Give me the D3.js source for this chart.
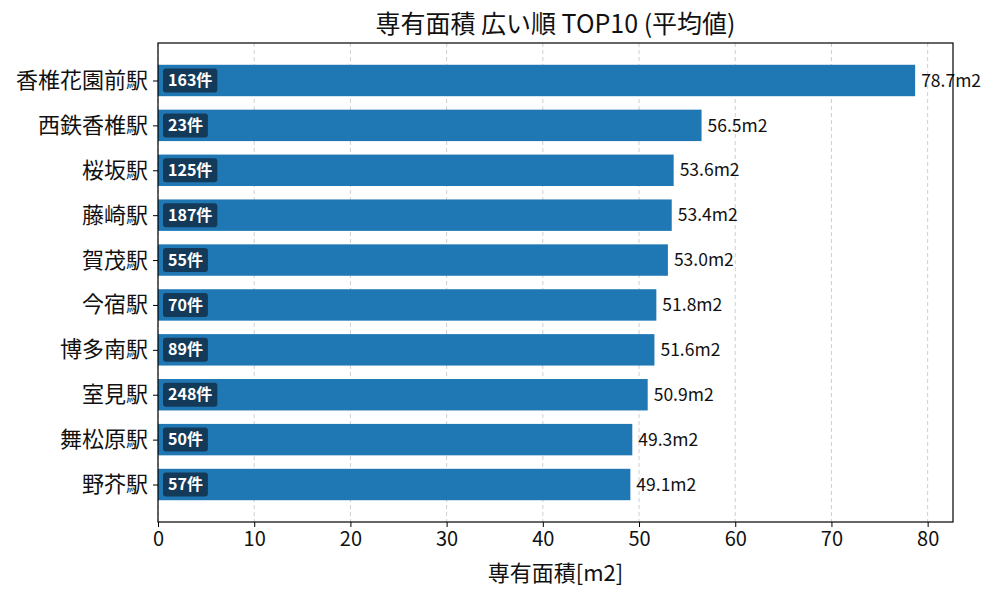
<!DOCTYPE html>
<html lang="ja">
<head>
<meta charset="utf-8">
<title>専有面積 広い順 TOP10</title>
<script src="https://cdn.jsdelivr.net/npm/d3@7"></script>
<style>
  body { margin: 0; background: #fff; }
  text { font-family: "Noto Sans CJK JP", "Noto Sans", sans-serif; }
</style>
</head>
<body>
<script>
// data
var stations = ["香椎花園前駅", "西鉄香椎駅", "桜坂駅", "藤崎駅", "賀茂駅",
                "今宿駅", "博多南駅", "室見駅", "舞松原駅", "野芥駅"];
var areas = [78.7, 56.5, 53.6, 53.4, 53.0, 51.8, 51.6, 50.9, 49.3, 49.1];
var counts = [163, 23, 125, 187, 55, 70, 89, 248, 50, 57];
var xTicks = [0, 10, 20, 30, 40, 50, 60, 70, 80];

var w = 1000, h = 600;
var margin = {top: 43, right: 47, bottom: 78, left: 158};
var iw = w - margin.left - margin.right;
var ih = h - margin.top - margin.bottom;

var svg = d3.select("body").append("svg")
  .attr("width", w).attr("height", h);

var g = svg.append("g")
  .attr("transform", "translate(" + margin.left + "," + margin.top + ")");

// x: matplotlib style 5% margin on the right
var xMax = d3.max(areas) * 1.05;
var x = d3.scaleLinear().domain([0, xMax]).range([0, iw]);

// y: index positions, bar height 0.7, 5% margin
var ext = 9.7 * 0.05;
var y = d3.scaleLinear()
  .domain([-0.35 - ext, 9.35 + ext])
  .range([0, ih]);
var barH = y(0.7) - y(0);

// grid
g.selectAll("line.grid")
  .data(xTicks)
  .enter().append("line")
  .attr("class", "grid")
  .attr("x1", function(d) { return x(d); })
  .attr("x2", function(d) { return x(d); })
  .attr("y1", 0).attr("y2", ih)
  .attr("stroke", "#cfcfcf")
  .attr("stroke-width", 1)
  .attr("stroke-dasharray", "4,3");

// bars
g.selectAll("rect.bar")
  .data(areas)
  .enter().append("rect")
  .attr("class", "bar")
  .attr("x", x(0))
  .attr("y", function(d, i) { return y(i - 0.35); })
  .attr("width", function(d) { return x(d) - x(0); })
  .attr("height", barH)
  .attr("fill", "#1f77b4");

// value labels
g.selectAll("text.val")
  .data(areas)
  .enter().append("text")
  .attr("class", "val")
  .attr("x", function(d) { return x(d) + 6; })
  .attr("y", function(d, i) { return y(i); })
  .attr("dy", "0.35em")
  .attr("font-size", "17.5px")
  .attr("fill", "#111")
  .text(function(d) { return d.toFixed(1) + "m2"; });

// count badges
var badge = g.selectAll("g.badge")
  .data(counts)
  .enter().append("g")
  .attr("class", "badge")
  .attr("transform", function(d, i) { return "translate(" + (x(0) + 5) + "," + y(i) + ")"; });

badge.append("text")
  .attr("x", 5)
  .attr("dy", "0.35em")
  .attr("font-size", "16px")
  .attr("font-weight", "bold")
  .attr("fill", "#fff")
  .text(function(d) { return d + "件"; });

badge.each(function() {
  var t = d3.select(this).select("text");
  var bw = t.node().getComputedTextLength();
  d3.select(this).insert("rect", "text")
    .attr("x", 0).attr("y", -12)
    .attr("width", bw + 10).attr("height", 24)
    .attr("rx", 3)
    .attr("fill", "#143a5a");
});

// frame
g.append("rect")
  .attr("width", iw).attr("height", ih)
  .attr("fill", "none")
  .attr("stroke", "#000")
  .attr("stroke-width", 1.2);

// x axis
var xAxis = g.append("g")
  .attr("transform", "translate(0," + ih + ")")
  .call(d3.axisBottom(x).tickValues(xTicks).tickSize(5).tickPadding(5));
xAxis.select(".domain").remove();
xAxis.selectAll("text").attr("font-size", "20px").attr("fill", "#111")
  .style("font-family", "'Noto Sans CJK JP', sans-serif");
xAxis.selectAll("line").attr("stroke", "#000");

// y axis
var yAxis = g.append("g")
  .call(d3.axisLeft(y).tickValues(d3.range(stations.length))
    .tickFormat(function(i) { return stations[i]; })
    .tickSize(5).tickPadding(5));
yAxis.select(".domain").remove();
yAxis.selectAll("text").attr("font-size", "22px").attr("fill", "#111")
  .style("font-family", "'Noto Sans CJK JP', sans-serif");
yAxis.selectAll("line").attr("stroke", "#000");

// title
svg.append("text")
  .attr("x", margin.left + iw / 2)
  .attr("y", 33)
  .attr("text-anchor", "middle")
  .attr("font-size", "25px")
  .attr("fill", "#111")
  .text("専有面積 広い順 TOP10 (平均値)");

// x label
svg.append("text")
  .attr("x", margin.left + iw / 2)
  .attr("y", 581)
  .attr("text-anchor", "middle")
  .attr("font-size", "22px")
  .attr("fill", "#111")
  .text("専有面積[m2]");
</script>
</body>
</html>
